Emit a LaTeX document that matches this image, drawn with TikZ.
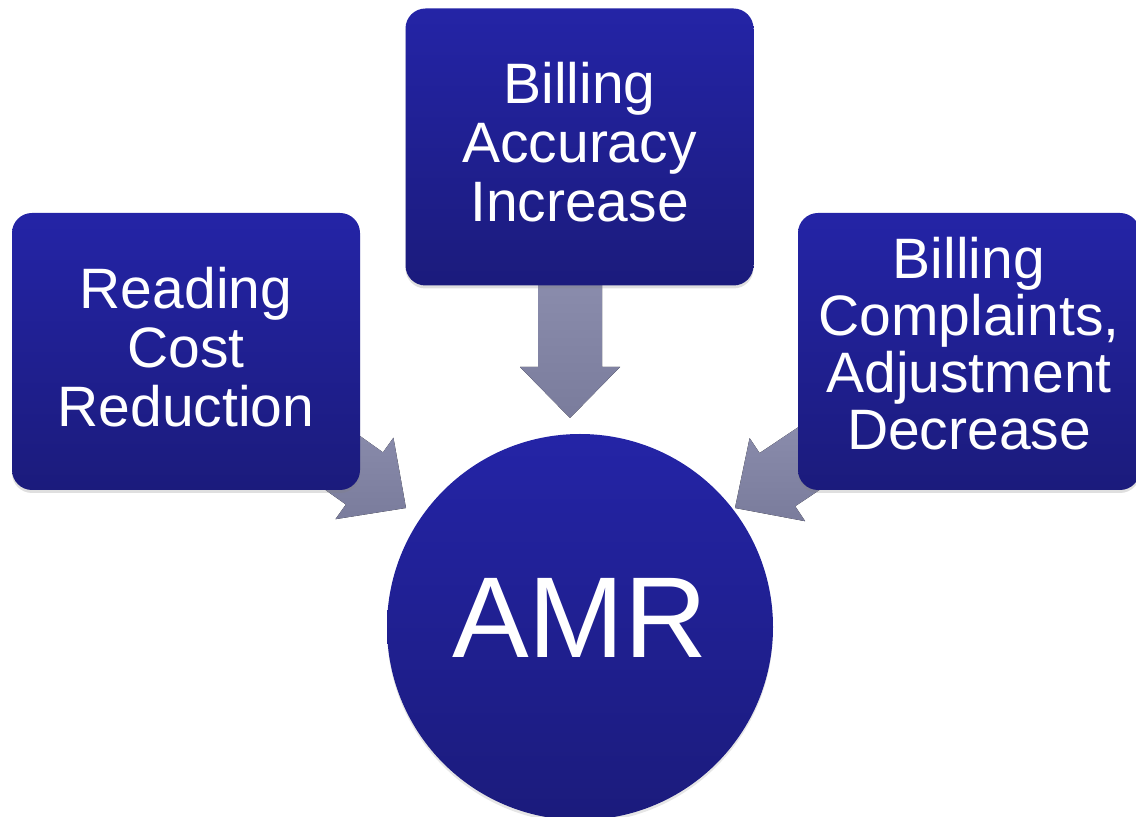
\documentclass[tikz,border=0pt]{standalone}
\usepackage{fontspec}
\setmainfont{Liberation Sans}
\usetikzlibrary{calc,backgrounds,shadows}
\definecolor{boxtop}{RGB}{36,36,166}
\definecolor{boxbot}{RGB}{27,27,124}
\definecolor{arrtop}{RGB}{154,156,188}
\definecolor{arrbot}{RGB}{122,124,156}
% block arrow from #1 (hidden tail) to the tip #2
\newcommand{\blockarrow}[2]{%
  \coordinate (#2b) at ($(#2)!51pt!(#1)$);
  \fill[blockarr] ($(#1)!32pt!90:(#2)$) -- ($(#2b)!32pt!90:(#2)$) -- ($(#2b)!50pt!90:(#2)$) -- (#2)
    -- ($(#2b)!50pt!-90:(#2)$) -- ($(#2b)!32pt!-90:(#2)$) -- ($(#1)!32pt!-90:(#2)$) -- cycle;}
\begin{document}
\begin{tikzpicture}[x=1pt, y=1pt,
  box/.style = {rounded corners=20pt, top color=boxtop, bottom color=boxbot, text=white, align=center,
    font=\fontsize{57}{59}\selectfont, minimum width=348pt, minimum height=277pt, inner sep=0pt, text depth=10pt,
    drop shadow={shadow xshift=0pt, shadow yshift=-3pt, opacity=.25}},
  amr/.style = {circle, top color=boxtop, bottom color=boxbot, text=white, minimum size=386pt, inner sep=0pt,
    font=\fontsize{115}{115}\selectfont, text depth=18pt,
    drop shadow={shadow xshift=0pt, shadow yshift=-3pt, opacity=.2}},
  blockarr/.style = {top color=arrtop, bottom color=arrbot}]
\useasboundingbox (0,0) rectangle (1136,817);
\clip (0,0) rectangle (1136,817);
\node[box] (cost) at (186,465.5) {Reading\\Cost\\Reduction};
\node[box] (accuracy) at (579.5,670) {Billing\\Accuracy\\Increase};
\node[box, minimum width=342pt, font=\fontsize{57}{57}\selectfont, text depth=16pt] (complaints) at (969,465.5) {Billing\\Complaints,\\Adjustment\\Decrease};
\node[amr] (amr) at (580,190) {AMR};
\coordinate (tipL) at (406,309);
\coordinate (tipT) at (570,399);
\coordinate (tipR) at (735,309);
\coordinate (tailT) at (tipT |- accuracy);
\begin{scope}[on background layer]
\blockarrow{cost}{tipL}
\blockarrow{tailT}{tipT}
\blockarrow{complaints}{tipR}
\end{scope}
\end{tikzpicture}
\end{document}
